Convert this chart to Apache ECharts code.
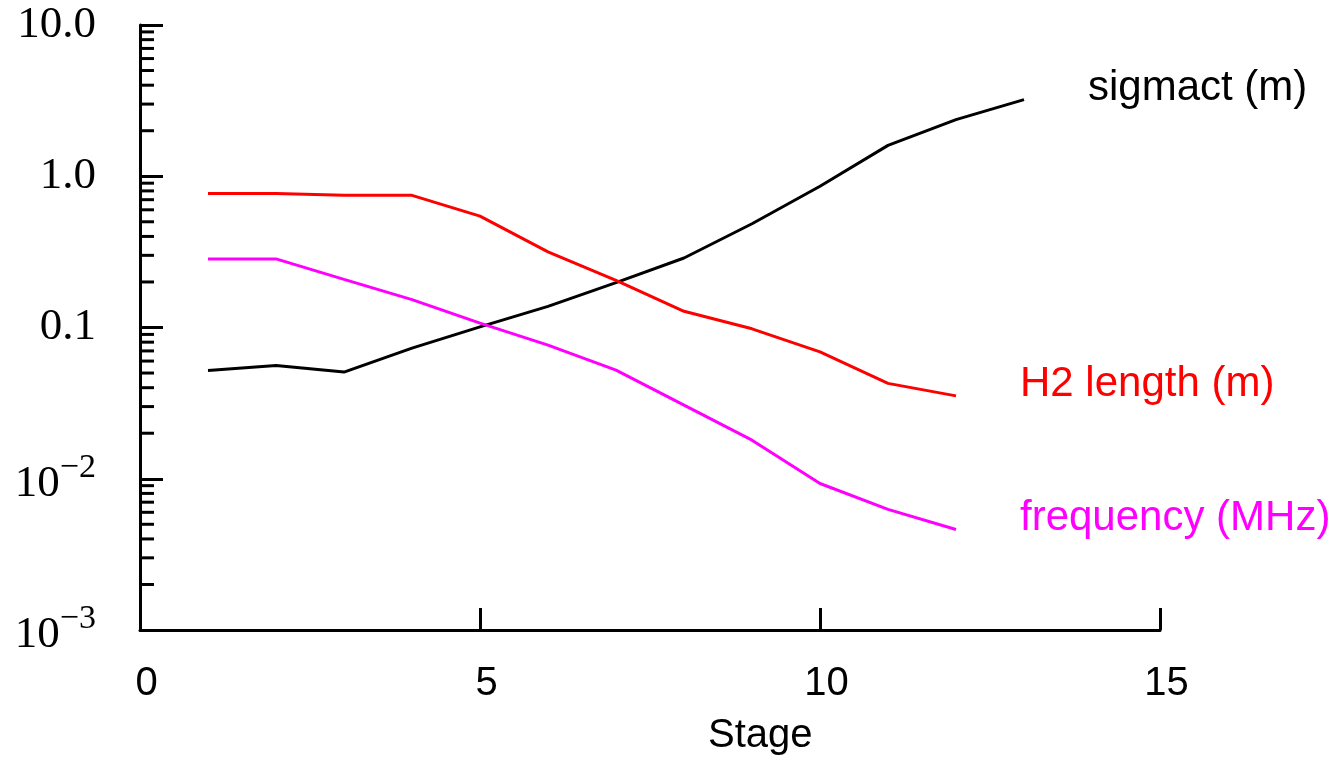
<!DOCTYPE html>
<html>
<head>
<meta charset="utf-8">
<script src="https://cdn.jsdelivr.net/npm/echarts@6/dist/echarts.min.js"></script>
<style>
  html, body { margin: 0; padding: 0; background: #fff; }
  #main { width: 1332px; height: 760px; }
</style>
</head>
<body>
<div id="main"></div>
<script>
// stages on the x axis
var stagesLong = [1, 2, 3, 4, 5, 6, 7, 8, 9, 10, 11, 12, 13];
var stagesShort = [1, 2, 3, 4, 5, 6, 7, 8, 9, 10, 11, 12];

// values
var sigmact = [0.052, 0.056, 0.0507, 0.073, 0.101, 0.138, 0.198, 0.288, 0.485, 0.859, 1.60, 2.37, 3.21];
var h2Length = [0.769, 0.77, 0.748, 0.748, 0.545, 0.316, 0.205, 0.128, 0.098, 0.069, 0.0427, 0.0353];
var frequency = [0.284, 0.284, 0.208, 0.153, 0.107, 0.0764, 0.0522, 0.0307, 0.018, 0.0093, 0.00627, 0.00462];

// y ticks
var yMajor = [0.001, 0.01, 0.1, 1, 10];
var yLabels = ['{b|10}{s|\u22123}', '{b|10}{s|\u22122}', '0.1', '1.0', '10.0'];
var minorMult = [2, 3, 4, 5, 6, 7, 8, 9];
var decades = [0.001, 0.01, 0.1, 1];

var minorTicks = [];
decades.forEach(function (d) {
  minorMult.forEach(function (m) { minorTicks.push([0, m * d]); });
});

function pairs(xs, ys) {
  return ys.map(function (v, i) { return [xs[i], v]; });
}

var sansFont = '"Liberation Sans", Arial, sans-serif';
var serifFont = '"Liberation Serif", "Times New Roman", serif';

var myChart = echarts.init(document.getElementById('main'));

function lineSeries(name, xs, ys, color) {
  return {
    name: name,
    type: 'line',
    data: pairs(xs, ys),
    showSymbol: false,
    symbol: 'none',
    lineStyle: { color: color, width: 3 },
    itemStyle: { color: color },
    animation: false,
    endLabel: {
      show: true,
      formatter: name,
      color: color,
      fontFamily: sansFont,
      fontSize: 42,
      distance: 0,
      offset: [64, -11]
    }
  };
}

myChart.setOption({
  backgroundColor: '#fff',
  animation: false,
  grid: { left: 140, right: 172, top: 25, bottom: 130 },
  xAxis: {
    type: 'value',
    min: 0,
    max: 15,
    interval: 5,
    splitLine: { show: false },
    axisLine: { lineStyle: { color: '#000', width: 3 } },
    axisTick: { inside: true, length: 22, lineStyle: { color: '#000', width: 3 } },
    axisLabel: {
      color: '#000',
      fontFamily: sansFont,
      fontSize: 40,
      margin: 34,
      padding: [0, 0, 0, 13]
    }
  },
  yAxis: {
    type: 'log',
    logBase: 10,
    min: 0.001,
    max: 10,
    splitLine: { show: false },
    axisLine: { show: true, lineStyle: { color: '#000', width: 3 } },
    axisTick: { inside: true, length: 23, lineStyle: { color: '#000', width: 3 } },
    axisLabel: {
      color: '#000',
      fontFamily: serifFont,
      fontSize: 45,
      margin: 44,
      formatter: function (v) {
        for (var i = 0; i < yMajor.length; i++) {
          if (Math.abs(Math.log10(v) - Math.log10(yMajor[i])) < 1e-6) return yLabels[i];
        }
        return '';
      },
      rich: {
        b: { fontFamily: serifFont, fontSize: 45, color: '#000', verticalAlign: 'middle', padding: [10, 0, 0, 0] },
        s: { fontFamily: serifFont, fontSize: 34, color: '#000', verticalAlign: 'middle', padding: [0, 0, 22, 0] }
      }
    }
  },
  graphic: [{
    type: 'text',
    left: 708,
    top: 716,
    style: { text: 'Stage', fill: '#000', font: '40px ' + sansFont }
  }],
  series: [
    {
      name: 'minorTicks',
      type: 'custom',
      data: minorTicks,
      clip: false,
      silent: true,
      animation: false,
      renderItem: function (params, api) {
        var p = api.coord([api.value(0), api.value(1)]);
        return {
          type: 'line',
          shape: { x1: p[0], y1: p[1], x2: p[0] + 14, y2: p[1] },
          style: { stroke: '#000', lineWidth: 3 }
        };
      }
    },
    lineSeries('sigmact (m)', stagesLong, sigmact, '#000000'),
    lineSeries('H2 length (m)', stagesShort, h2Length, '#ff0000'),
    lineSeries('frequency (MHz)', stagesShort, frequency, '#ff00ff')
  ]
});
</script>
</body>
</html>
